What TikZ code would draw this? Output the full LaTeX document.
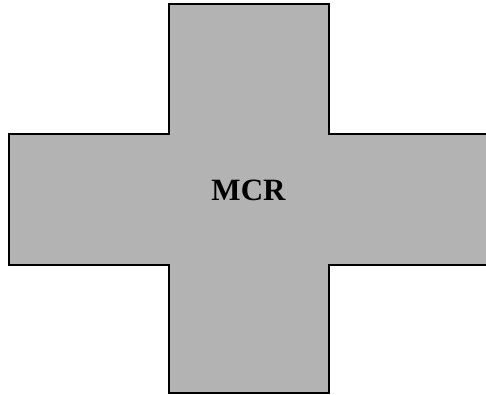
\documentclass[tikz,border=0pt]{standalone}
\usepackage{fontspec}
\setmainfont{Liberation Serif}
\definecolor{crossgray}{RGB}{179,179,179}
\tikzset{crossarm/.style={fill=crossgray, draw=black, line width=2pt, line join=miter}}

\begin{document}
\begin{tikzpicture}[x=1pt, y=-1pt, every node/.style={font=\fontsize{31}{36}\selectfont\bfseries}]
    \useasboundingbox (0,0) rectangle (486,395);
    \draw[crossarm] (168.5,4.5) -- (328.5,4.5) -- (328.5,134.5) -- (492,134.5) -- (492,264.5)
        -- (328.5,264.5) -- (328.5,393) -- (168.5,393) -- (168.5,264.5) -- (8.5,264.5)
        -- (8.5,134.5) -- (168.5,134.5) -- cycle;
    \node (mcr) at (248.5,190) {MCR};
\end{tikzpicture}
\end{document}
